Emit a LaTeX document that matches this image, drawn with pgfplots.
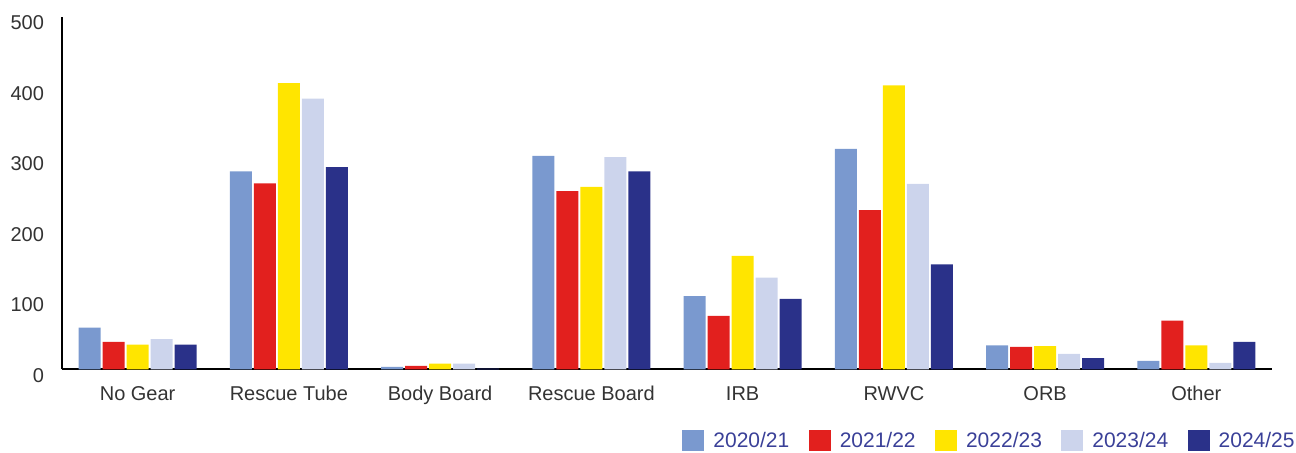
\documentclass[border=0pt]{standalone}
\usepackage{fontspec}
\setmainfont{Liberation Sans}
\usepackage{pgfplots}
\pgfplotsset{compat=1.18}
\definecolor{cA}{HTML}{7A99CF}
\definecolor{cB}{HTML}{E2201E}
\definecolor{cC}{HTML}{FFE500}
\definecolor{cD}{HTML}{CCD4EC}
\definecolor{cE}{HTML}{2A3189}
\definecolor{lgtext}{HTML}{3A4098}
\definecolor{ticktext}{HTML}{333333}
\pgfplotsset{sq legend/.style={legend image code/.code={\fill[##1] (0pt,-4.7pt) rectangle (11pt,5.8pt); \path (13.5pt,0pt);}}}
\begin{document}
\begin{tikzpicture}
\useasboundingbox (0,0) rectangle (648pt,226pt);
\begin{axis}[
  at={(31pt,41.35pt)}, anchor=south west,
  scale only axis, width=605pt, height=176.15pt,
  ybar=1pt, bar width=11pt,
  xmin=-0.5, xmax=7.5, ymin=0, ymax=500,
  ytick={0,100,200,300,400,500},
  xtick={0,...,7},
  xticklabels={No Gear,Rescue Tube,Body Board,Rescue Board,IRB,RWVC,ORB,Other},
  axis x line=bottom, axis y line=left,
  axis line style={-, line width=1pt, black},
  major tick length=0pt,
  tick label style={font=\fontsize{10}{12}\selectfont, text=ticktext},
  yticklabel style={xshift=-5.5pt, yshift=-3pt},
  xticklabel style={yshift=-5pt},
  /pgf/number format/assume math mode=true,
  legend columns=5,
  legend style={draw=none, fill=none, inner sep=0pt, at={(1,0)}, anchor=south east,
    xshift=13.5pt, yshift=-42.8pt,
    font=\fontsize{10.5}{12}\selectfont, text=lgtext,
    /tikz/every even column/.append style={column sep=7.7pt}},
  legend cell align=left,
]
\addplot[fill=cA, draw=none, sq legend] coordinates {(0,59) (1,281) (2,3.5) (3,303) (4,104) (5,313) (6,34) (7,12)};
\addplot[fill=cB, draw=none, sq legend] coordinates {(0,39) (1,264) (2,5) (3,253) (4,76) (5,226) (6,32) (7,69)};
\addplot[fill=cC, draw=none, sq legend] coordinates {(0,35) (1,406) (2,8) (3,259) (4,161) (5,403) (6,33) (7,34)};
\addplot[fill=cD, draw=none, sq legend] coordinates {(0,43) (1,384) (2,8) (3,301) (4,130) (5,263) (6,22) (7,9)};
\addplot[fill=cE, draw=none, sq legend] coordinates {(0,35) (1,287) (2,1) (3,281) (4,100) (5,149) (6,16) (7,39)};
\legend{2020/21,2021/22,2022/23,2023/24,2024/25}
\end{axis}
\end{tikzpicture}
\end{document}
